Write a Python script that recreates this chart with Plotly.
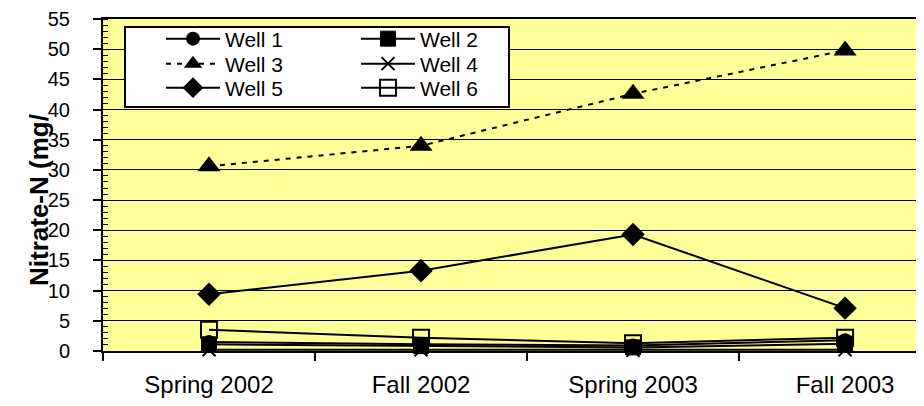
import plotly.graph_objects as go

categories = ["Spring 2002", "Fall 2002", "Spring 2003", "Fall 2003"]
well1 = [1.5, 1.1, 0.9, 1.8]
well2 = [1.1, 0.8, 0.6, 1.2]
well3 = [30.6, 34.0, 42.6, 49.8]
well4 = [0.2, 0.2, 0.1, 0.2]
well5 = [9.4, 13.3, 19.3, 7.1]
well6 = [3.5, 2.2, 1.3, 2.2]
y_ticks = list(range(0, 56, 5))

FONT = "Liberation Sans, Arial, sans-serif"
BLACK = "#000000"

L, T, B = 95, 11, 63
W, H = 924, 406
pw = W - L
ph = H - T - B

def px_x(p):
    return (p - L) / pw

def px_y(p):
    return (H - B - p) / ph

# legend slot for each series: (legend id, left px, anchor px)
series = [
    ("Well 1", well1, dict(symbol="circle", size=14, color=BLACK), "solid", ("legend", 153, 31)),
    ("Well 2", well2, dict(symbol="square", size=15, color=BLACK, line=dict(color=BLACK, width=1)), "solid", ("legend2", 348, 31)),
    ("Well 3", well3, dict(symbol="triangle-up", size=20, color=BLACK), "5px,6px", ("legend3", 153, 56)),
    ("Well 4", well4, dict(symbol="x-thin", size=13, color=BLACK, line=dict(color=BLACK, width=2)), "solid", ("legend4", 348, 56)),
    ("Well 5", well5, dict(symbol="diamond", size=18, color=BLACK), "solid", ("legend5", 153, 80)),
    ("Well 6", well6, dict(symbol="square-open", size=16, color=BLACK, line=dict(color=BLACK, width=2)), "solid", ("legend6", 348, 80)),
]

fig = go.Figure()
legend_layouts = {}
for name, vals, marker, dash, (leg, lx, ly) in series:
    fig.add_trace(go.Scatter(
        x=categories, y=vals, name=name, mode="lines+markers",
        line=dict(color=BLACK, width=2, dash=dash),
        marker=marker, legend=leg, cliponaxis=False, showlegend=True,
    ))
    legend_layouts[leg] = dict(
        x=px_x(lx), y=px_y(ly), xanchor="left", yanchor="middle",
        bgcolor="rgba(0,0,0,0)", borderwidth=0,
        font=dict(size=21, family=FONT, color=BLACK),
        itemwidth=54, visible=True,
    )

fig.update_layout(
    width=W, height=H,
    showlegend=True,
    margin=dict(l=L, r=0, t=T, b=B, autoexpand=False),
    paper_bgcolor="white",
    plot_bgcolor="#FFFF99",
    font=dict(family=FONT, color=BLACK),
    xaxis=dict(
        type="category", range=[-0.5, 3.41], automargin=False,
        tickson="boundaries", ticks="outside", ticklen=8, tickwidth=2, tickcolor=BLACK,
        showline=True, linewidth=2, linecolor=BLACK, mirror=True,
        showgrid=False, zeroline=False,
        tickfont=dict(size=24, family=FONT, color=BLACK),
        ticklabelstandoff=11,
    ),
    yaxis=dict(
        range=[0, 55], tickvals=y_ticks, ticktext=[str(v) for v in y_ticks],
        automargin=False,
        ticks="outside", ticklen=8, tickwidth=2, tickcolor=BLACK,
        showline=True, linewidth=2, linecolor=BLACK, mirror=False,
        showgrid=True, gridcolor=BLACK, gridwidth=1, zeroline=False,
        tickfont=dict(size=20, family=FONT, color=BLACK),
        ticklabelstandoff=19, ticklabeloverflow="allow",
        minor=dict(dtick=1, ticks="inside", ticklen=5, tickwidth=1, tickcolor=BLACK, showgrid=False),
    ),
    shapes=[dict(
        type="rect", xref="paper", yref="paper",
        x0=px_x(117), x1=px_x(501), y0=px_y(99), y1=px_y(19),
        fillcolor="white", line=dict(color=BLACK, width=2), layer="above",
    )],
    annotations=[dict(
        text="<b>Nitrate-N (mg/</b>", textangle=-90,
        xref="paper", yref="paper", x=px_x(31), y=px_y(192),
        xanchor="center", yanchor="middle", showarrow=False,
        font=dict(size=26, family=FONT, color=BLACK),
    )],
    **legend_layouts,
)

fig.write_html("out.html")
